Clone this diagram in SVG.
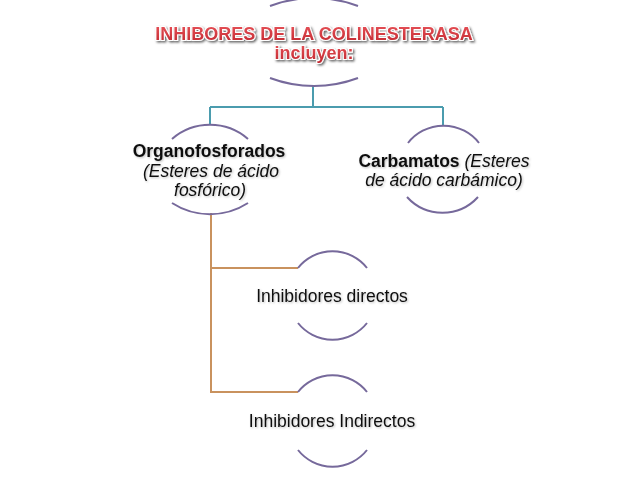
<svg xmlns="http://www.w3.org/2000/svg" width="638" height="479" viewBox="0 0 638 479">
  <defs>
    <filter id="shadow" x="-10%" y="-30%" width="120%" height="160%">
      <feDropShadow dx="1.5" dy="1.5" stdDeviation="1" flood-color="#000" flood-opacity="0.6"/>
    </filter>
    <filter id="soft" x="-10%" y="-30%" width="120%" height="160%">
      <feDropShadow dx="1" dy="1" stdDeviation="0.8" flood-color="#000" flood-opacity="0.25"/>
    </filter>
    <linearGradient id="red" x1="0" y1="0" x2="0" y2="1">
      <stop offset="0" stop-color="#e8545a"/>
      <stop offset="1" stop-color="#c0262e"/>
    </linearGradient>
  </defs>
  <style>
    .arc { fill: none; stroke: #76699b; stroke-width: 2; }
    .teal { fill: none; stroke: #4b9cae; stroke-width: 2; }
    .orange { fill: none; stroke: #c9925e; stroke-width: 2; }
    .t { font-family: "Liberation Sans", Arial, sans-serif; font-size: 17.5px; fill: #111; text-anchor: middle; }
    .b { font-weight: bold; }
    .i { font-style: italic; }
    .title { font-family: "Liberation Sans", Arial, sans-serif; font-weight: bold; font-size: 18px; fill: url(#red); stroke: #fff; stroke-width: 2.2; paint-order: stroke; text-anchor: middle; }
  </style>
  <rect width="638" height="479" fill="#fff"/>

  <g id="connectors">
    <path class="teal" d="M313,86 V107 M210,107 H443 M210,107 V125 M443,107 V125"/>
    <path class="orange" d="M211,213 V392 H298 M211,268 H298"/>
  </g>

  <g id="node-root">
    <path class="arc" d="M270,6 A125,125 0 0 1 358,6"/>
    <path class="arc" d="M270,78 A125,125 0 0 0 358,78"/>
    <g filter="url(#shadow)">
      <text class="title" x="314" y="40">INHIBORES DE LA COLINESTERASA</text>
      <text class="title" x="314" y="59">incluyen:</text>
    </g>
  </g>

  <g id="node-organofosforados">
    <path class="arc" d="M172,139 A58,58 0 0 1 248,139"/>
    <path class="arc" d="M172,203 A70,70 0 0 0 248,203"/>
    <g filter="url(#soft)">
      <text class="t b" x="209" y="157">Organofosforados</text>
      <text class="t i" x="211" y="177">(Esteres de ácido</text>
      <text class="t i" x="210" y="196">fosfórico)</text>
    </g>
  </g>

  <g id="node-carbamatos">
    <path class="arc" d="M408,143 A45,45 0 0 1 479,143"/>
    <path class="arc" d="M407,197 A48,48 0 0 0 478,197"/>
    <g filter="url(#soft)">
      <text class="t" x="444" y="167"><tspan class="b">Carbamatos</tspan> <tspan class="i">(Esteres</tspan></text>
      <text class="t i" x="444" y="186">de ácido carbámico)</text>
    </g>
  </g>

  <g id="node-directos">
    <path class="arc" d="M298,268 A44,44 0 0 1 367,268"/>
    <path class="arc" d="M298,323 A44,44 0 0 0 367,323"/>
    <text class="t" x="332" y="302" filter="url(#soft)">Inhibidores directos</text>
  </g>

  <g id="node-indirectos">
    <path class="arc" d="M298,392 A44,44 0 0 1 367,392"/>
    <path class="arc" d="M298,450 A44,44 0 0 0 367,450"/>
    <text class="t" x="332" y="427" filter="url(#soft)">Inhibidores Indirectos</text>
  </g>
</svg>
